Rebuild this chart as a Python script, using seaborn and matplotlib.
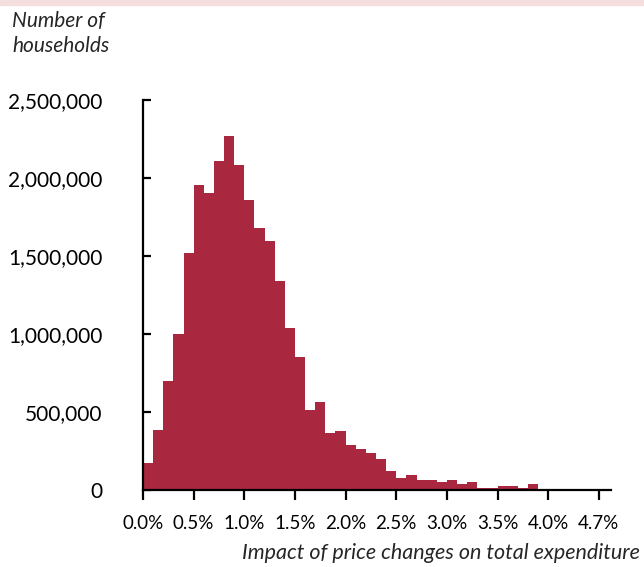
import matplotlib
matplotlib.use('Agg')
import matplotlib.pyplot as plt
import matplotlib.ticker as mticker
import seaborn as sb

# bin starts (% of total expenditure), one bin per 0.1 percentage point
bin_starts = [i / 10 for i in range(46)]
households = [
	172000, 385000, 700000, 1000000, 1517000, 1955000, 1906000, 2109000, 2271000, 2081000,
	1859000, 1681000, 1594000, 1340000, 1038000, 851000, 513000, 562000, 363000, 378000,
	288000, 263000, 237000, 200000, 124000, 74000, 98000, 62000, 62000, 51000,
	64000, 36000, 51000, 15000, 15000, 26000, 26000, 15000, 38000, 3000,
	3000, 2000, 2000, 2000, 2000, 2000,
]
tick_pos = [0.0, 0.5, 1.0, 1.5, 2.0, 2.5, 3.0, 3.5, 4.0, 4.5]
tick_labels = ['0.0%', '0.5%', '1.0%', '1.5%', '2.0%', '2.5%', '3.0%', '3.5%', '4.0%', '4.7%']
y_ticks = [0, 500000, 1000000, 1500000, 2000000, 2500000]

BAR = '#A9283F'

sb.set_theme(style='ticks')
plt.rcParams['font.family'] = ['Lato', 'DejaVu Sans']

fig = plt.figure(figsize=(6.44, 5.67), dpi=100)
ax = fig.add_axes([143 / 644, 1 - 490 / 567, 468 / 644, 390 / 567])

edges = [b for b in bin_starts] + [bin_starts[-1] + 0.1]
sb.histplot(
	x=[b + 0.05 for b in bin_starts], weights=households,
	bins=edges, ax=ax,
	color=BAR, alpha=1, edgecolor='none', linewidth=0
)

ax.set_xlim(0, 4.62)
ax.set_ylim(0, 2500000)
ax.set_xticks(tick_pos)
ax.set_xticklabels(tick_labels)
ax.set_yticks(y_ticks)
ax.yaxis.set_major_formatter(mticker.FuncFormatter(lambda v, p: f'{int(v):,}'))
ax.set_xlabel('')
ax.set_ylabel('')

for s in ['top', 'right']:
	ax.spines[s].set_visible(False)
for s in ['left', 'bottom']:
	ax.spines[s].set_color('black')
	ax.spines[s].set_linewidth(1.6)

ax.tick_params(axis='x', direction='out', length=7, width=1.6, pad=11, labelsize=13.5, colors='black')
ax.tick_params(axis='y', direction='in', length=6, width=1.6, pad=29, labelsize=15, colors='black')

fig.text(12 / 644, 1 - 11 / 567, 'Number of\nhouseholds', fontsize=15, style='italic',
		 ha='left', va='top', linespacing=1.3)
fig.text(640 / 644, 1 - 553 / 567, 'Impact of price changes on total expenditure',
		 fontsize=15.5, style='italic', ha='right', va='center')

# pink band along the top edge
fig.patches.append(plt.Rectangle((0, 1 - 5 / 567), 1, 5 / 567, transform=fig.transFigure,
								 color='#F5DEDE', zorder=0))

fig.savefig('out.png', dpi=100)
